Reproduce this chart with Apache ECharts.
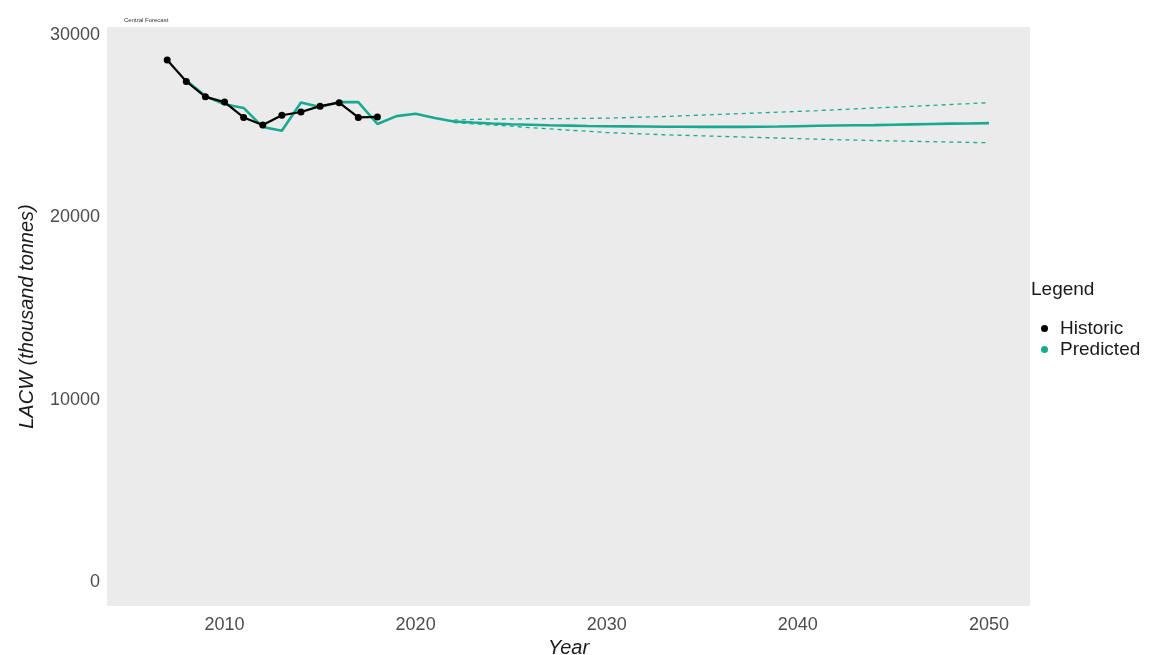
<!DOCTYPE html>
<html>
<head>
<meta charset="utf-8">
<script src="https://cdn.jsdelivr.net/npm/echarts@6/dist/echarts.min.js"></script>
<style>html,body{margin:0;padding:0;background:#fff;}#c{width:1171px;height:655px;}</style>
</head>
<body>
<div id="c"></div>
<script>
const historicYears = [2007,2008,2009,2010,2011,2012,2013,2014,2015,2016,2017,2018];
const historicValues = [28630,27450,26610,26320,25480,25060,25600,25780,26100,26290,25480,25510];
const predictedYears = [2008,2009,2010,2011,2012,2013,2014,2015,2016,2017,2018,2019,2020,2021,2022,2023,2024,2025,2026,2027,2028,2029,2030,2031,2032,2033,2034,2035,2036,2037,2038,2039,2040,2041,2042,2043,2044,2045,2046,2047,2048,2049,2050];
const predictedValues = [27500,26650,26200,26000,24950,24750,26300,26050,26330,26320,25120,25550,25680,25450,25260,25200,25150,25110,25080,25050,25030,25010,25000,24990,24980,24970,24970,24960,24960,24960,24970,24980,25000,25020,25040,25050,25060,25080,25100,25120,25140,25150,25170];
const boundYears = [2022,2023,2024,2025,2026,2027,2028,2029,2030,2031,2032,2033,2034,2035,2036,2037,2038,2039,2040,2041,2042,2043,2044,2045,2046,2047,2048,2049,2050];
const upperValues = [25330,25370,25390,25400,25410,25420,25420,25430,25440,25470,25500,25530,25570,25610,25650,25690,25730,25770,25810,25850,25900,25950,26000,26040,26090,26140,26190,26240,26290];
const lowerValues = [25200,25130,25060,25000,24920,24850,24780,24720,24650,24610,24570,24530,24500,24470,24440,24410,24380,24350,24320,24290,24260,24240,24210,24190,24170,24150,24130,24110,24090];
const xTicks = [2010,2020,2030,2040,2050];
const yTicks = [0,10000,20000,30000];

const zip = (xs, ys) => xs.map((x, i) => [x, ys[i]]);
const teal = '#17AA90';
const font = '"Liberation Sans", Arial, sans-serif';

const chart = echarts.init(document.getElementById('c'), null, {renderer: 'canvas'});
chart.setOption({
  animation: false,
  backgroundColor: '#ffffff',
  title: {
    text: 'Central Forecast', left: 119, top: 12,
    textStyle: {fontSize: 6, fontWeight: 'normal', color: '#333', fontFamily: font}
  },
  graphic: [{
    type: 'text', left: 1031, top: 280,
    style: {text: 'Legend', fontSize: 19, fill: '#1a1a1a', fontFamily: font}
  }],
  legend: {
    orient: 'vertical', left: 1036, top: 314, itemGap: 2,
    icon: 'circle', itemWidth: 7, itemHeight: 7,
    textStyle: {fontSize: 19, color: '#1a1a1a', fontFamily: font, padding: [0,0,0,7]},
    data: [{name: 'Historic', itemStyle: {color: '#000'}}, {name: 'Predicted', itemStyle: {color: teal}}]
  },
  grid: {left: 107, right: 141, top: 27, bottom: 49, containLabel: false, outerBoundsMode: 'none',
         show: true, backgroundColor: '#EBEBEB', borderWidth: 0},
  xAxis: {
    type: 'value', min: 2003.85, max: 2052.15,
    name: 'Year', nameLocation: 'middle', nameGap: 32,
    nameTextStyle: {fontSize: 20, fontStyle: 'italic', color: '#1a1a1a', fontFamily: font},
    axisLine: {show: false}, axisTick: {show: false}, splitLine: {show: false},
    axisLabel: {customValues: xTicks, fontSize: 18, color: '#4D4D4D', fontFamily: font, margin: 10,
                formatter: v => String(v)}
  },
  yAxis: {
    type: 'value', min: -1316, max: 30440,
    name: 'LACW (thousand tonnes)', nameLocation: 'middle', nameGap: 70, nameRotate: 90,
    nameTextStyle: {fontSize: 20, fontStyle: 'italic', color: '#1a1a1a', fontFamily: font},
    axisLine: {show: false}, axisTick: {show: false}, splitLine: {show: false},
    axisLabel: {customValues: yTicks, fontSize: 18, color: '#4D4D4D', fontFamily: font, margin: 7,
                formatter: v => String(v)}
  },
  series: [
    {name: 'Upper', type: 'line', data: zip(boundYears, upperValues), showSymbol: false,
     lineStyle: {color: teal, width: 1.3, type: [4, 4]}, z: 2},
    {name: 'Lower', type: 'line', data: zip(boundYears, lowerValues), showSymbol: false,
     lineStyle: {color: teal, width: 1.3, type: [4, 4]}, z: 2},
    {name: 'Historic', type: 'line', data: zip(historicYears, historicValues),
     symbol: 'circle', symbolSize: 7, itemStyle: {color: '#000'},
     lineStyle: {color: '#000', width: 2.2}, z: 4},
    {name: 'Predicted', type: 'line', data: zip(predictedYears, predictedValues), showSymbol: false,
     itemStyle: {color: teal}, lineStyle: {color: teal, width: 2.6}, z: 3}
  ]
});
</script>
</body>
</html>
